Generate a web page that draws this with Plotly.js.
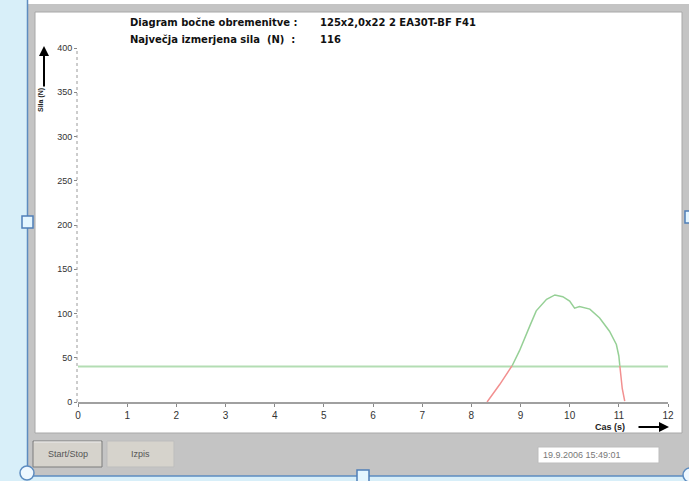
<!DOCTYPE html>
<html>
<head>
<meta charset="utf-8">
<script src="https://cdn.plot.ly/plotly-3.0.1.min.js"></script>
<style>html,body{margin:0;padding:0;background:#fff;}#chart{width:689px;height:481px;}</style>
</head>
<body>
<div id="chart"></div>
<script>
// ---- data ----
const timeS  = [8.32, 8.58, 8.83, 8.98, 9.19, 9.32, 9.53, 9.70, 9.86, 10.00, 10.10, 10.20, 10.41, 10.61, 10.81, 10.95, 11.00, 11.02, 11.07, 11.12];
const forceN = [0, 20, 41, 58, 86, 103, 116, 121, 119, 114, 106, 108, 105, 95, 80, 65, 52, 41, 15, 1];
const thresholdN = 40;
const thresholdX = [0, 12];
const xTicks = [0,1,2,3,4,5,6,7,8,9,10,11,12];
const yTicks = [0,50,100,150,200,250,300,350,400];
const titleLabel1 = "Diagram bočne obremenitve :";
const titleValue1 = "125x2,0x22 2 EA30T-BF F41";
const titleLabel2 = "Največja izmerjena sila&nbsp;&nbsp;(N)&nbsp;&nbsp;:";
const titleValue2 = "116";
const xLabel = "Cas (s)";
const yLabel = "Sila (N)";
const dateText = "19.9.2006 15:49:01";
const buttonLabels = ["Start/Stop", "Izpis"];

// split curve: red below threshold, green above
const firstUp = forceN.findIndex(v => v >= thresholdN);
let lastUp = forceN.length - 1;
while (lastUp > 0 && forceN[lastUp] < thresholdN) lastUp--;
const redX = [], redY = [], greenX = [], greenY = [];
for (let i = 0; i <= firstUp; i++) { redX.push(timeS[i]); redY.push(forceN[i]); }
redX.push(null); redY.push(null);
for (let i = lastUp; i < timeS.length; i++) { redX.push(timeS[i]); redY.push(forceN[i]); }
for (let i = firstUp; i <= lastUp; i++) { greenX.push(timeS[i]); greenY.push(forceN[i]); }

const W = 689, H = 481;
const px = x => x / W, py = y => 1 - y / H;

function rect(x0, y0, x1, y1, fill, line, lw) {
  return {type:'rect', xref:'paper', yref:'paper', x0:px(x0), x1:px(x1), y0:py(y1), y1:py(y0),
          fillcolor:fill, line:{color:line||fill, width:lw===undefined?0:lw}, layer:'below'};
}
function circ(cx, cy, r, fill, line) {
  return {type:'circle', xref:'paper', yref:'paper', x0:px(cx-r), x1:px(cx+r), y0:py(cy+r), y1:py(cy-r),
          fillcolor:fill, line:{color:line, width:1.5}, layer:'above'};
}
function hline(x0, x1, y, color, w) {
  return {type:'line', xref:'paper', yref:'paper', x0:px(x0), x1:px(x1), y0:py(y), y1:py(y), line:{color:color, width:w}, layer:'below'};
}
function vline(x, y0, y1, color, w) {
  return {type:'line', xref:'paper', yref:'paper', x0:px(x), x1:px(x), y0:py(y0), y1:py(y1), line:{color:color, width:w}, layer:'below'};
}

const shapes = [
  rect(0, 0, 689, 481, '#ffffff'),
  rect(0, 0, 27, 481, '#d8eff9'),
  rect(0, 476, 689, 481, '#d8eff9'),
  rect(28, 4, 689, 476, '#c4c4c4'),
  rect(35, 12, 682, 433, '#ffffff', '#a8a8a8', 1),
  vline(27.5, 0, 476, '#5d8cc0', 1.5),
  hline(27, 689, 476, '#5d8cc0', 1.5),
  // buttons (3D look)
  rect(33, 441, 102, 467, '#d6d3cc', '#7d7d7d', 1),
  hline(34, 101, 442, '#ececec', 1),
  rect(107, 441, 174, 467, '#d6d3cc', '#bdbdbd', 1),
  // date box
  rect(538, 447, 659, 463, '#ffffff', '#bdbdbd', 1),
  // y axis dotted line
  {type:'line', xref:'paper', yref:'y', x0:px(77), x1:px(77), y0:0, y1:400, line:{color:'#9a9a9a', width:1, dash:'dot'}, layer:'above'},
  // selection handles
  {type:'rect', xref:'paper', yref:'paper', x0:px(22), x1:px(33), y0:py(228), y1:py(216), fillcolor:'#e4f6ff', line:{color:'#4f7fb8', width:1.5}, layer:'above'},
  {type:'rect', xref:'paper', yref:'paper', x0:px(357), x1:px(369), y0:py(482), y1:py(470), fillcolor:'#e4f6ff', line:{color:'#4f7fb8', width:1.5}, layer:'above'},
  {type:'rect', xref:'paper', yref:'paper', x0:px(685), x1:px(695), y0:py(223), y1:py(211), fillcolor:'#e4f6ff', line:{color:'#4f7fb8', width:1.5}, layer:'above'},
  circ(27, 473, 7, '#eef8ff', '#5d8cc0'),
  circ(690, 475, 7, '#eef8ff', '#5d8cc0')
];

const baseFont = 'Liberation Sans, Arial, sans-serif';
const titleFont = {family:'DejaVu Sans, Verdana, sans-serif', size:10, color:'#111'};
const annotations = [
  {xref:'paper', yref:'paper', x:px(128), y:py(22), xanchor:'left', yanchor:'middle', text:'<b>'+titleLabel1+'</b>', showarrow:false, font:titleFont},
  {xref:'paper', yref:'paper', x:px(318), y:py(22), xanchor:'left', yanchor:'middle', text:'<b>'+titleValue1+'</b>', showarrow:false, font:titleFont},
  {xref:'paper', yref:'paper', x:px(128), y:py(39), xanchor:'left', yanchor:'middle', text:'<b>'+titleLabel2+'</b>', showarrow:false, font:titleFont},
  {xref:'paper', yref:'paper', x:px(318), y:py(39), xanchor:'left', yanchor:'middle', text:'<b>'+titleValue2+'</b>', showarrow:false, font:titleFont},
  {xref:'paper', yref:'paper', x:px(627), y:py(427), xanchor:'right', yanchor:'middle', text:'<b>'+xLabel+'</b>', showarrow:false, font:{family:baseFont, size:9, color:'#222'}},
  {xref:'paper', yref:'paper', x:px(41), y:py(100), xanchor:'center', yanchor:'middle', text:'<b>'+yLabel+'</b>', textangle:-90, showarrow:false, font:{family:baseFont, size:7, color:'#222'}},
  // arrows
  {xref:'paper', yref:'paper', x:px(669), y:py(427), ax:-32, ay:0, text:'', showarrow:true, arrowhead:2, arrowsize:1, arrowwidth:2, arrowcolor:'#000'},
  {xref:'paper', yref:'paper', x:px(44), y:py(46), ax:0, ay:42, text:'', showarrow:true, arrowhead:2, arrowsize:1, arrowwidth:2, arrowcolor:'#000'},
  // buttons & date
  {xref:'paper', yref:'paper', x:px(67.5), y:py(454), xanchor:'center', yanchor:'middle', text:buttonLabels[0], showarrow:false, font:{family:baseFont, size:9, color:'#555'}},
  {xref:'paper', yref:'paper', x:px(140.5), y:py(454), xanchor:'center', yanchor:'middle', text:buttonLabels[1], showarrow:false, font:{family:baseFont, size:9, color:'#555'}},
  {xref:'paper', yref:'paper', x:px(541), y:py(455), xanchor:'left', yanchor:'middle', text:dateText, showarrow:false, font:{family:baseFont, size:9, color:'#777'}}
];

const traces = [
  {x: thresholdX, y: [thresholdN, thresholdN], mode:'lines', line:{color:'#b3ddb3', width:2}, hoverinfo:'skip'},
  {x: redX, y: redY, mode:'lines', line:{color:'#f29090', width:1.5}, connectgaps:false, hoverinfo:'skip'},
  {x: greenX, y: greenY, mode:'lines', line:{color:'#96d096', width:1.5}, hoverinfo:'skip'}
];

const layout = {
  width: W, height: H,
  margin: {l:0, r:0, t:0, b:0},
  paper_bgcolor: 'rgba(0,0,0,0)',
  plot_bgcolor: 'rgba(0,0,0,0)',
  showlegend: false,
  xaxis: {domain:[px(78), px(668)], range:[0,12], tickvals:xTicks, ticktext:xTicks.map(String),
          ticks:'outside', ticklen:3, tickcolor:'#888', showgrid:false, zeroline:false,
          showline:true, linecolor:'#a0a0a0', linewidth:1.5, anchor:'y',
          tickfont:{family:baseFont, size:10, color:'#333'}, fixedrange:true},
  yaxis: {domain:[py(402), py(48)], range:[0,400], tickvals:yTicks, ticktext:yTicks.map(String),
          ticks:'outside', ticklen:3, tickcolor:'#888', showgrid:false, zeroline:false,
          showline:false, tickfont:{family:baseFont, size:9, color:'#333'}, fixedrange:true},
  shapes: shapes,
  annotations: annotations
};

Plotly.newPlot('chart', traces, layout, {staticPlot:true, displayModeBar:false});
</script>
</body>
</html>
